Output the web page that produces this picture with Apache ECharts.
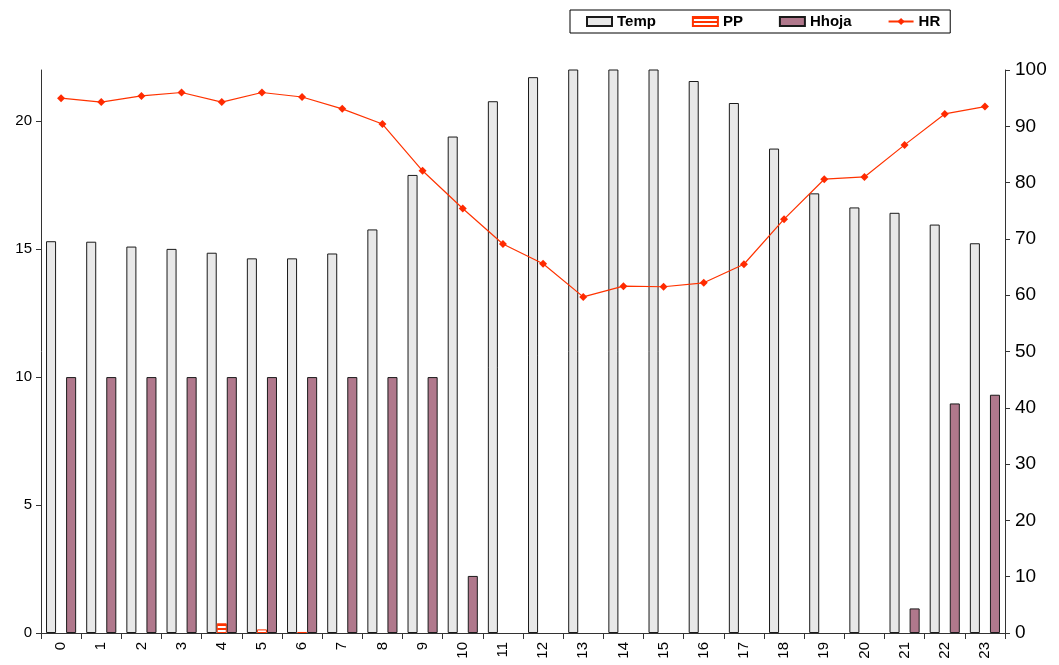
<!DOCTYPE html>
<html>
<head>
<meta charset="utf-8">
<style>
  html, body { margin: 0; padding: 0; background: #fff; }
  #chart { width: 1059px; height: 665px; }
</style>
<script src="https://cdn.jsdelivr.net/npm/echarts@6/dist/echarts.min.js"></script>
</head>
<body>
<div id="chart"></div>
<script>
// Hourly readings, hours 0..23
const hours = ['0','1','2','3','4','5','6','7','8','9','10','11','12','13','14','15','16','17','18','19','20','21','22','23'];
// Temperature (left axis)
const temp = [15.31, 15.29, 15.10, 15.01, 14.86, 14.64, 14.64, 14.83, 15.77, 17.90, 19.40, 20.78,
              21.72, 22.6, 23.1, 22.8, 21.57, 20.71, 18.93, 17.18, 16.63, 16.42, 15.96, 15.23];
// Precipitation (left axis)
const pp = [0, 0, 0, 0, 0.38, 0.14, 0.04, 0, 0, 0, 0, 0,
            0, 0, 0, 0, 0, 0, 0, 0, 0, 0, 0, 0];
// Leaf wetness hours (left axis)
const hhoja = [10, 10, 10, 10, 10, 10, 10, 10, 10, 10, 2.23, 0,
               0, 0, 0, 0, 0, 0, 0, 0, 0, 0.96, 8.97, 9.31];
// Relative humidity (right axis)
const hr = [95.0, 94.3, 95.4, 96.0, 94.3, 96.0, 95.2, 93.1, 90.4, 82.1, 75.4, 69.1,
            65.6, 59.7, 61.6, 61.5, 62.2, 65.5, 73.5, 80.6, 81.0, 86.7, 92.2, 93.5];
const leftTicks = [0, 5, 10, 15, 20];
const rightTicks = [0, 10, 20, 30, 40, 50, 60, 70, 80, 90, 100];

// zero-height bars are left empty so no outline is drawn on the baseline
const skipZero = arr => arr.map(v => (v === 0 ? '-' : v));

// red / white horizontal stripes for the precipitation bars
const stripe = document.createElement('canvas');
stripe.width = 4; stripe.height = 4;
const sctx = stripe.getContext('2d');
sctx.fillStyle = '#ffffff'; sctx.fillRect(0, 0, 4, 4);
sctx.fillStyle = '#ff3300'; sctx.fillRect(0, 0, 4, 2);

const FONT = 'Liberation Sans, Arial, sans-serif';
const AXIS_COLOR = '#333';

const chart = echarts.init(document.getElementById('chart'), null, { renderer: 'canvas' });
chart.setOption({
  animation: false,
  backgroundColor: '#fff',
  legend: {
    left: 570, top: 10,
    width: 376,
    padding: [4, 10, 4, 16],
    borderColor: '#000', borderWidth: 1,
    itemWidth: 25, itemHeight: 9, itemGap: 36,
    textStyle: { fontFamily: FONT, fontSize: 15, fontWeight: 'bold', color: '#000' },
    data: [
      { name: 'Temp', icon: 'rect' },
      { name: 'PP', icon: 'rect' },
      { name: 'Hhoja', icon: 'rect' },
      { name: 'HR' }
    ]
  },
  grid: { left: 41, right: 54, top: 70, bottom: 32, containLabel: false, outerBoundsMode: 'none' },
  xAxis: {
    type: 'category',
    data: hours,
    boundaryGap: true,
    axisLine: { lineStyle: { color: AXIS_COLOR, width: 1 } },
    axisTick: { show: true, alignWithLabel: false, length: 6, lineStyle: { color: AXIS_COLOR } },
    axisLabel: { rotate: 90, margin: 9, fontFamily: FONT, fontSize: 15, color: '#000' },
    splitLine: { show: false }
  },
  yAxis: [{
    type: 'value', min: 0, max: 22, interval: 5,
    axisLine: { show: true, lineStyle: { color: AXIS_COLOR, width: 1 } },
    axisTick: { show: true, length: 5, customValues: leftTicks, lineStyle: { color: AXIS_COLOR } },
    axisLabel: { customValues: leftTicks, margin: 9, fontFamily: FONT, fontSize: 15, color: '#000' },
    splitLine: { show: false }
  }, {
    type: 'value', min: 0, max: 100, interval: 10,
    position: 'right',
    axisLine: { show: true, lineStyle: { color: AXIS_COLOR, width: 1 } },
    axisTick: { show: true, length: 5, customValues: rightTicks, lineStyle: { color: AXIS_COLOR } },
    axisLabel: { customValues: rightTicks, margin: 10, fontFamily: FONT, fontSize: 19, color: '#000' },
    splitLine: { show: false }
  }],
  series: [{
    name: 'Temp', type: 'bar', yAxisIndex: 0, data: temp,
    barCategoryGap: '25%', barGap: '0%',
    itemStyle: { color: '#e8e8e8', borderColor: '#1a1a1a', borderWidth: 1 }
  }, {
    name: 'PP', type: 'bar', yAxisIndex: 0, data: skipZero(pp),
    barCategoryGap: '25%', barGap: '0%',
    itemStyle: { color: { image: stripe, repeat: 'repeat' }, borderColor: '#ff3300', borderWidth: 1 }
  }, {
    name: 'Hhoja', type: 'bar', yAxisIndex: 0, data: skipZero(hhoja),
    barCategoryGap: '25%', barGap: '0%',
    itemStyle: { color: '#b0788c', borderColor: '#1a1a1a', borderWidth: 1 }
  }, {
    name: 'HR', type: 'line', yAxisIndex: 1, data: hr,
    symbol: 'diamond', symbolSize: 8,
    lineStyle: { color: '#ff3300', width: 1.2 },
    itemStyle: { color: '#ff2a00' },
    z: 5
  }]
});
</script>
</body>
</html>
